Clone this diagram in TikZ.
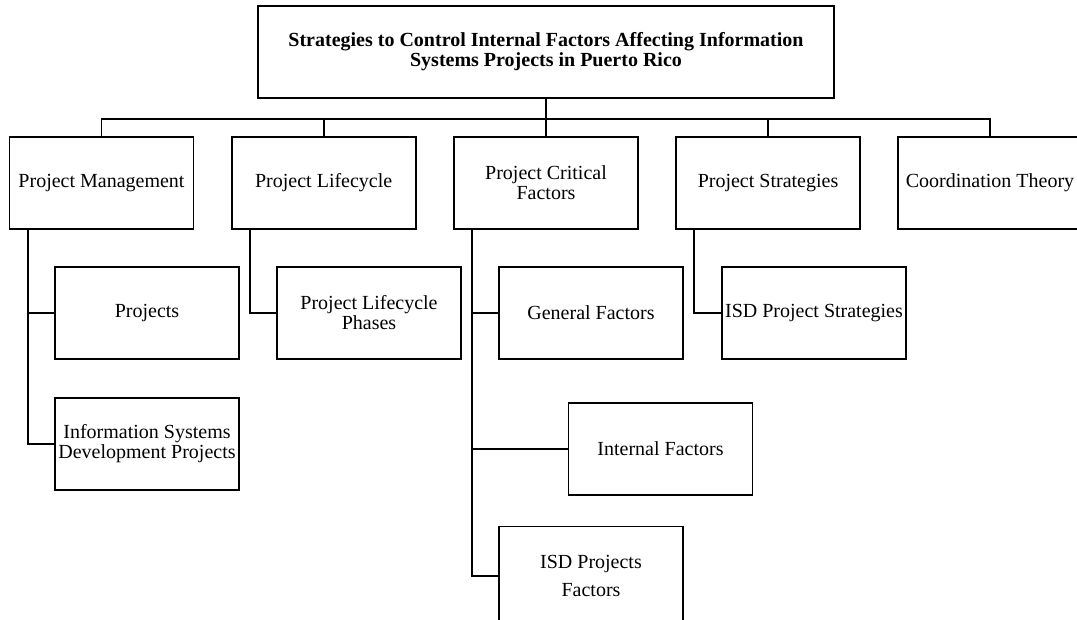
\documentclass[tikz,border=0pt]{standalone}
\usepackage{fontspec}
\setmainfont{Liberation Serif}
\tikzset{box/.style = {draw, line width=1.2pt, minimum width=138pt, minimum height=69pt,
                       align=center, inner sep=1pt, font=\fontsize{15pt}{15pt}\selectfont},
         link/.style = {line width=1.2pt}}

\begin{document}
\begin{tikzpicture}[x=0.75pt, y=-0.75pt]
      \useasboundingbox (0, 0) rectangle (1077, 619);
      \clip (0, 0) rectangle (1077, 619);
      \node [box, minimum width=432pt] (title) at (546, 52)
            {\bfseries Strategies to Control Internal Factors Affecting Information\\
             \bfseries Systems Projects in Puerto Rico};
      \node [box] (pm) at (101.5, 183) {Project Management};
      \node [box] (pl) at (323.7, 183) {Project Lifecycle};
      \node [box] (pcf) at (546, 183) {Project Critical\\Factors};
      \node [box] (ps) at (768, 183) {Project Strategies};
      \node [box] (ct) at (990, 183) {Coordination Theory};
      \node [box] (proj) at (147, 313) {Projects};
      \node [box] (isdp) at (147, 444) {Information Systems\\Development Projects};
      \node [box] (plp) at (369, 313) {Project Lifecycle\\Phases};
      \node [box] (gen) at (591, 313) {General Factors};
      \node [box] (intf) at (660.5, 449) {Internal Factors};
      \node [box, minimum height=74pt] (isdf) at (591, 576) {ISD Projects\\[6pt]Factors};
      \node [box] (isds) at (814, 313) {ISD Project Strategies};
      \foreach \top in {pm, pl, pcf, ps, ct}
        \draw [link] (title.south) -- +(0, 20) -| (\top.north);
      \draw [link] (pm.south west) ++(19, 0) |- (proj.west);
      \draw [link] (pm.south west) ++(19, 0) |- (isdp.west);
      \draw [link] (pl.south west) ++(19, 0) |- (plp.west);
      \draw [link] (pcf.south west) ++(19, 0) |- (gen.west);
      \draw [link] (pcf.south west) ++(19, 0) |- (intf.west);
      \draw [link] (pcf.south west) ++(19, 0) |- (isdf.west);
      \draw [link] (ps.south west) ++(19, 0) |- (isds.west);
    \end{tikzpicture}
\end{document}
